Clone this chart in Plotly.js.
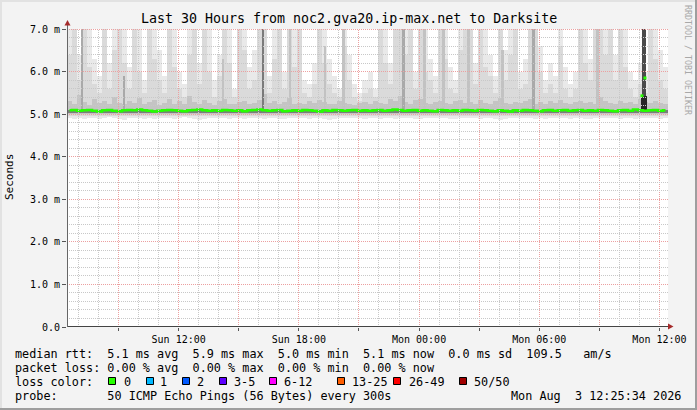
<!DOCTYPE html>
<html>
<head>
<meta charset="utf-8">
<script src="https://cdn.plot.ly/plotly-3.0.1.min.js"></script>
<style>
html,body{margin:0;padding:0;background:#f3f3f3;}
#chart{width:697px;height:410px;}
</style>
</head>
<body>
<div id="chart"></div>
<script>
// ---------------- data ----------------
const START = '2026-08-02 06:25:34';
const END   = '2026-08-03 12:25:34';
const STEP_MIN = 15; // one smoke column per 15 minutes

// upper edge of the lightest smoke (values above 7 are off-scale)
const smokeMax = [
 7.3,7.3,6.4,7.3,7.3,6.3,5.9,7.3,6.2,7.3,
 7.3,7.3,6.1,7.3,7.3,5.8,7.3,7.3,6.5,5.9,
 7.3,7.3,6.0,5.7,7.3,7.3,6.2,7.3,7.3,5.8,
 6.4,7.3,7.3,5.6,7.3,7.3,6.1,6.5,7.3,7.3,
 5.9,7.3,7.3,6.0,7.3,7.3,7.3,5.8,5.7,6.2,
 7.3,7.3,6.3,5.9,5.6,7.3,6.4,5.7,5.5,5.8,
 6.0,5.6,7.3,7.3,6.2,7.3,7.3,7.3,7.3,6.0,
 7.3,7.3,6.3,5.9,7.3,7.3,6.1,5.8,7.3,7.3,
 7.3,6.2,7.3,7.3,6.4,5.9,7.3,6.5,7.3,7.3,
 6.0,6.3,7.3,7.3,6.6,5.8,6.2,5.9,7.3,6.1,
 5.7,6.0,7.3,7.3,6.3,7.3,7.3,7.3,7.3,6.4,
 7.3,7.3,6.0,5.8,6.2,6.0,7.3,7.3,6.5,6.1];
// second smoke layer
const smokeHi = [
 6.4,7.3,5.8,7.3,6.1,5.7,5.5,7.3,5.6,6.5,
 7.3,6.2,5.6,7.3,6.0,5.5,7.3,6.3,5.8,5.5,
 7.3,6.1,5.6,5.4,6.4,7.3,5.7,7.3,6.0,5.4,
 5.9,7.3,6.2,5.4,7.3,6.5,5.6,5.8,7.3,7.3,
 5.5,6.3,7.3,5.6,7.3,6.1,7.3,5.5,5.4,5.7,
 7.3,6.2,5.7,5.5,5.4,6.6,5.8,5.4,5.3,5.5,
 5.6,5.4,7.3,6.2,5.7,7.3,7.3,6.4,7.3,5.6,
 7.3,6.0,5.8,5.5,7.3,6.3,5.6,5.5,6.5,7.3,
 7.3,5.7,7.3,6.1,5.9,5.5,7.3,5.8,6.4,7.3,
 5.6,5.7,7.3,7.3,6.0,5.5,5.7,5.5,6.6,5.6,
 5.4,5.6,7.3,6.2,5.8,7.3,7.3,6.4,7.3,5.8,
 7.3,6.1,5.6,5.4,5.7,5.5,7.3,6.3,5.8,5.6];
// inner smoke layer
const smokeQ = [
 5.30,5.25,5.45,5.28,5.22,5.35,5.26,5.32,5.24,5.40,
 5.27,5.23,5.31,5.26,5.38,5.24,5.29,5.33,5.22,5.27,
 5.35,5.25,5.30,5.23,5.42,5.28,5.24,5.33,5.26,5.22,
 5.30,5.36,5.25,5.23,5.28,5.32,5.24,5.27,5.34,5.48,
 5.26,5.30,5.23,5.29,5.38,5.25,5.27,5.24,5.31,5.26,
 5.33,5.28,5.23,5.25,5.30,5.27,5.24,5.22,5.26,5.29,
 5.25,5.32,5.27,5.24,5.35,5.30,5.42,5.28,5.25,5.33,
 5.36,5.26,5.24,5.29,5.31,5.27,5.23,5.30,5.34,5.26,
 5.28,5.24,5.33,5.27,5.25,5.30,5.38,5.26,5.24,5.29,
 5.27,5.32,5.36,5.25,5.28,5.24,5.30,5.26,5.33,5.27,
 5.24,5.29,5.31,5.26,5.28,5.25,5.40,5.30,5.27,5.24,
 5.32,5.26,5.29,5.25,5.35,5.28,5.26,5.30,5.27,5.25];
// lower edge of the smoke
const smokeLo = [
 4.90,4.88,4.91,4.89,4.92,4.90,4.88,4.91,4.93,4.90,
 4.89,4.87,4.90,4.92,4.91,4.89,4.90,4.88,4.92,4.91,
 4.90,4.89,4.91,4.93,4.90,4.88,4.86,4.89,4.91,4.90,
 4.92,4.90,4.89,4.91,4.90,4.88,4.90,4.92,4.91,4.89,
 4.90,4.91,4.89,4.88,4.90,4.92,4.91,4.90,4.89,4.91,
 4.90,4.88,4.87,4.89,4.91,4.90,4.92,4.91,4.90,4.89,
 4.91,4.90,4.88,4.90,4.91,4.89,4.90,4.92,4.90,4.88,
 4.89,4.91,4.90,4.92,4.91,4.90,4.89,4.88,4.90,4.91,
 4.92,4.90,4.89,4.91,4.90,4.88,4.87,4.89,4.90,4.91,
 4.90,4.92,4.91,4.89,4.90,4.88,4.90,4.91,4.92,4.90,
 4.89,4.91,4.90,4.88,4.89,4.91,4.90,4.92,4.91,4.90,
 4.89,4.90,4.91,4.89,4.90,4.92,4.91,4.90,4.89,4.91];
const HI_FLOOR = 4.95, Q_FLOOR = 5.0, CORE_LO = 5.02, CORE_HI = 5.10;
// median rtt (ms)
const medianRtt = [
 5.09,5.10,5.08,5.09,5.10,5.08,5.06,5.09,5.10,5.08,
 5.07,5.09,5.10,5.09,5.11,5.09,5.08,5.06,5.08,5.09,
 5.10,5.09,5.08,5.07,5.09,5.10,5.11,5.09,5.08,5.09,
 5.08,5.10,5.09,5.08,5.09,5.07,5.09,5.10,5.11,5.09,
 5.08,5.09,5.10,5.07,5.08,5.09,5.08,5.10,5.09,5.08,
 5.06,5.09,5.08,5.10,5.09,5.08,5.09,5.10,5.08,5.09,
 5.08,5.09,5.10,5.08,5.09,5.11,5.10,5.08,5.09,5.10,
 5.08,5.09,5.08,5.07,5.10,5.09,5.08,5.09,5.08,5.10,
 5.09,5.08,5.10,5.09,5.08,5.07,5.09,5.08,5.06,5.09,
 5.08,5.10,5.09,5.08,5.07,5.09,5.10,5.08,5.09,5.10,
 5.08,5.09,5.10,5.08,5.09,5.08,5.10,5.09,5.08,5.07,
 5.09,5.10,5.08,5.11,5.09,5.08,5.09,5.10,5.08,5.09];
// dense smoke spikes
const spikeTimes = ['2026-08-02 07:10','2026-08-02 09:16','2026-08-02 14:13','2026-08-02 16:13',
 '2026-08-02 17:34','2026-08-02 19:19','2026-08-02 20:13','2026-08-02 23:13','2026-08-03 00:16',
 '2026-08-03 01:13','2026-08-03 02:28','2026-08-03 04:10','2026-08-03 05:43','2026-08-03 08:55',
 '2026-08-03 11:12:34','2026-08-03 11:12:34'];
const spikeBase = [5.10,5.10,5.10,5.10,5.10,5.10,5.10,5.10,5.10,5.10,5.10,5.10,5.10,5.10,5.42,5.05];
const spikeTop  = [7.3,5.9,6.3,7.3,7.3,6.6,7.3,7.3,7.3,7.3,7.3,6.5,7.3,7.3,7.3,5.42];
const spikeLevel = [2,2,1,3,1,1,1,2,1,1,1,1,2,1,4,5];
// isolated median points
const outlierTimes = ['2026-08-03 11:16:34','2026-08-03 11:07:34'];
const outlierVals = [5.85,5.43];

const yTicks = [0,1,2,3,4,5,6,7];
const yTickText = ['0.0','1.0 m','2.0 m','3.0 m','4.0 m','5.0 m','6.0 m','7.0 m'];
const xTicks = ['2026-08-02 09:00','2026-08-02 12:00','2026-08-02 15:00','2026-08-02 18:00','2026-08-02 21:00',
 '2026-08-03 00:00','2026-08-03 03:00','2026-08-03 06:00','2026-08-03 09:00','2026-08-03 12:00'];
const xTickText = ['','Sun 12:00','','Sun 18:00','','Mon 00:00','','Mon 06:00','','Mon 12:00'];

const titleText = 'Last 30 Hours from noc2.gva20.ip-max.net to Darksite';
const statLines = [
 'median rtt:  5.1 ms avg  5.9 ms max  5.0 ms min  5.1 ms now  0.0 ms sd  109.5   am/s',
 'packet loss: 0.00 % avg  0.00 % max  0.00 % min  0.00 % now',
 'loss color:',
 'probe:       50 ICMP Echo Pings (56 Bytes) every 300s'];
const lossLabels = ['0','1','2','3-5','6-12','13-25','26-49','50/50'];
const lossColors = ['#26ff00','#00b8ff','#0059ff','#5e00ff','#ff00ff','#ff5e00','#ff0000','#a10000'];
const stampText = 'Mon Aug  3 12:25:34 2026';

// ---------------- helpers ----------------
const toMs = s => Date.parse(s.replace(' ','T') + (s.length === 16 ? ':00Z' : 'Z'));
const fmt = ms => new Date(ms).toISOString().slice(0,19).replace('T',' ');
const t0 = toMs(START), t1 = toMs(END);
const STEP = STEP_MIN*60000;
const colTimes = smokeMax.map((_,i) => fmt(t0 + (i+0.5)*STEP));
const nb = s => s.replace(/ /g,'\u00a0');

const L=67, T=29, W=601, H=298;
const PX = x => (x-L)/W;
const PY = y => (T+H-y)/H;
const MONO = 'DejaVu Sans Mono, monospace';

function band(base, top, color, name, width) {
  const b = Array.isArray(base) ? base : top.map(()=>base);
  return {type:'bar', x: colTimes, base: b, y: top.map((v,i)=>v-b[i]),
    width: width || STEP, marker:{color:color, line:{width:0}}, hoverinfo:'skip', name:name, showlegend:false};
}

const traces = [
  band(smokeLo, smokeMax, '#e9e9e9', 'smoke1'),
  band(HI_FLOOR, smokeHi, '#dadada', 'smoke2'),
  band(Q_FLOOR, smokeQ, '#c4c4c4', 'smoke3'),
];
const levelColor = {1:'#c2c2c2', 2:'#a9a9a9', 3:'#7a7a7a', 4:'#4a4a4a', 5:'#262626'};
const levelWidth = {1:7.5, 2:7.5, 3:7.5, 4:12, 5:18};
traces.push({type:'bar', x: spikeTimes, base: spikeBase, y: spikeTop.map((v,i)=>v-spikeBase[i]),
  width: spikeLevel.map(l=>levelWidth[l]*60000),
  marker:{color: spikeLevel.map(l=>levelColor[l]), line:{width:0}}, hoverinfo:'skip', showlegend:false});
traces.push(band(CORE_LO, colTimes.map(()=>CORE_HI), '#7c7c7c', 'core'));
traces.push({type:'scatter', mode:'lines', x: colTimes, y: medianRtt,
  line:{color:'#26ff00', width:2.5, shape:'hvh'}, hoverinfo:'skip', showlegend:false});
traces.push({type:'scatter', mode:'markers', x: outlierTimes, y: outlierVals,
  marker:{color:'#26ff00', size:3, symbol:'square'}, hoverinfo:'skip', showlegend:false});

// ---------------- grid, axes, frame ----------------
const shapes = [];
const gridDash = '1px,1px';
const MAJOR = 'rgb(236,160,160)', MINOR = 'rgb(200,200,200)';
const snap = p => Math.floor(p) + 0.5;
for (let t = Math.ceil(t0/3600000)*3600000; t < t1; t += 3600000) {
  const hr = new Date(t).getUTCHours();
  const major = hr % 3 === 0;
  const xp = snap(L + (t - t0) / (t1 - t0) * W);
  shapes.push({type:'line', xref:'paper', yref:'paper', x0: PX(xp), x1: PX(xp), y0:0, y1:1, layer:'above',
    line:{color: major ? MAJOR : MINOR, width:1, dash:gridDash}});
}
for (let k = 1; k <= 35; k++) {
  const major = k % 5 === 0;
  const yp = snap(T + H - k*0.2/7*H);
  shapes.push({type:'line', xref:'paper', yref:'paper', x0:0, x1:1, y0:PY(yp), y1:PY(yp), layer:'above',
    line:{color: major ? MAJOR : MINOR, width:1, dash:gridDash}});
}
// axis lines
shapes.push({type:'line', xref:'paper', yref:'paper', x0:PX(67), x1:PX(670), y0:PY(326.5), y1:PY(326.5), layer:'above', line:{color:'#444', width:1}});
shapes.push({type:'line', xref:'paper', yref:'paper', x0:PX(67.5), x1:PX(67.5), y0:PY(327), y1:PY(24), layer:'above', line:{color:'#666', width:1}});
// arrows
shapes.push({type:'path', xref:'paper', yref:'paper', layer:'above',
  path:`M ${PX(64.5)},${PY(25.5)} L ${PX(70.5)},${PY(25.5)} L ${PX(67.5)},${PY(20)} Z`, fillcolor:'#a52a2a', line:{width:0}});
shapes.push({type:'path', xref:'paper', yref:'paper', layer:'above',
  path:`M ${PX(668)},${PY(323.5)} L ${PX(668)},${PY(329.5)} L ${PX(673.5)},${PY(326.5)} Z`, fillcolor:'#a52a2a', line:{width:0}});
// frame
shapes.push({type:'rect', xref:'paper', yref:'paper', x0:PX(0), x1:PX(697), y0:PY(0), y1:PY(2), fillcolor:'#e2e2e2', line:{width:0}, layer:'above'});
shapes.push({type:'rect', xref:'paper', yref:'paper', x0:PX(0), x1:PX(2), y0:PY(0), y1:PY(410), fillcolor:'#e2e2e2', line:{width:0}, layer:'above'});
shapes.push({type:'rect', xref:'paper', yref:'paper', x0:PX(0), x1:PX(697), y0:PY(408), y1:PY(410), fillcolor:'#9e9e9e', line:{width:0}, layer:'above'});
shapes.push({type:'rect', xref:'paper', yref:'paper', x0:PX(695), x1:PX(697), y0:PY(0), y1:PY(410), fillcolor:'#9e9e9e', line:{width:0}, layer:'above'});

// legend boxes
const boxX = [108.5,146.5,182.5,219.5,269.5,337.5,393.5,459.5];
const labelX = [123,159,196,233,283,351,408,473];
lossColors.forEach((c,i) => {
  shapes.push({type:'rect', xref:'paper', yref:'paper', x0:PX(boxX[i]), x1:PX(boxX[i]+7), y0:PY(384.5), y1:PY(377.5),
    fillcolor:c, line:{color:'#000', width:1}, layer:'above'});
});

// ---------------- text ----------------
const ann = [];
const txt = (text, x, y, opts={}) => ann.push(Object.assign({xref:'paper', yref:'paper', x:PX(x), y:PY(y),
  text: nb(text), showarrow:false, xanchor:'left', yanchor:'middle', borderpad:0,
  font:{family:MONO, size:11.8, color:'#000'}}, opts));
txt(titleText, 348.5, 19, {xanchor:'center', font:{family:MONO, size:13.3, color:'#000'}});
txt('Seconds', 10, 177, {xanchor:'center', textangle:-90, font:{family:MONO, size:11, color:'#000'}});
txt('RRDTOOL / TOBI OETIKER', 688, 60, {xanchor:'center', textangle:90, font:{family:MONO, size:8.3, color:'#a8a8a8'}});
statLines.forEach((s,i) => txt(s, 14, 354 + 14*i));
lossLabels.forEach((s,i) => txt(s, labelX[i], 382));
txt(stampText, 682, 396, {xanchor:'right'});

const layout = {
  width:697, height:410,
  margin:{l:L, r:697-L-W, t:T, b:410-T-H, pad:0},
  paper_bgcolor:'#f3f3f3', plot_bgcolor:'#ffffff',
  barmode:'overlay', bargap:0,
  showlegend:false,
  xaxis:{type:'date', range:[START, END], tickvals:xTicks, ticktext:xTickText,
    ticks:'outside', ticklen:3, tickcolor:'#555', showgrid:false, zeroline:false, showline:false,
    tickfont:{family:MONO, size:10, color:'#000'}, fixedrange:true},
  yaxis:{range:[0,7], tickvals:yTicks, ticktext:yTickText, ticks:'outside', ticklen:4, tickcolor:'#555',
    showgrid:false, zeroline:false, showline:false, tickfont:{family:MONO, size:10, color:'#000'}, fixedrange:true},
  shapes:shapes, annotations:ann
};
Plotly.newPlot('chart', traces, layout, {staticPlot:true, displayModeBar:false});
</script>
</body>
</html>
